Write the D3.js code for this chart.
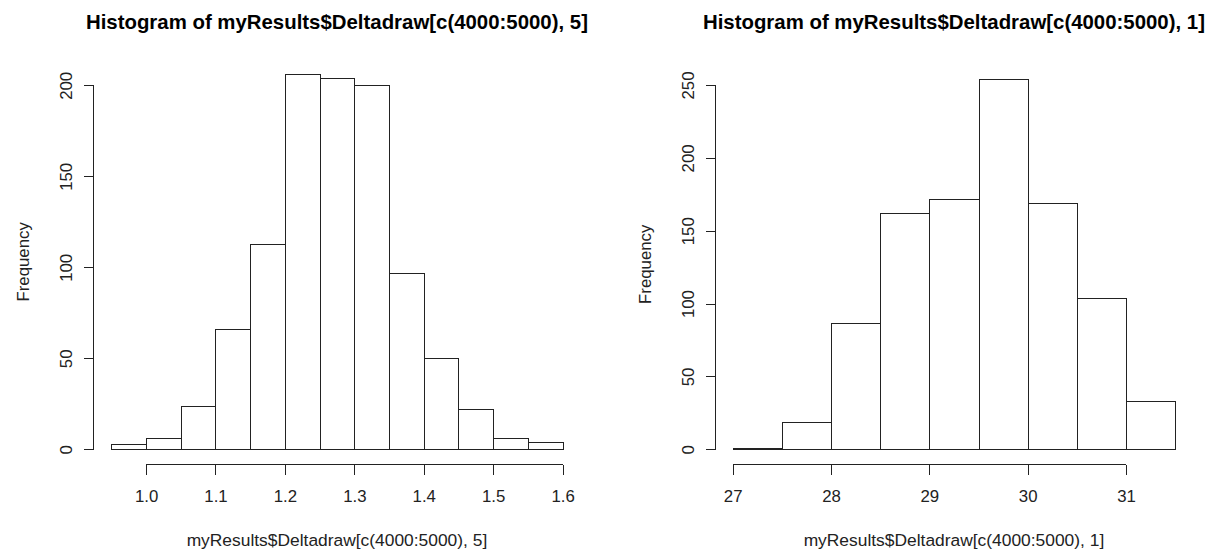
<!DOCTYPE html>
<html>
<head>
<meta charset="utf-8">
<script src="https://cdn.jsdelivr.net/npm/d3@7"></script>
<style>
  body { margin: 0; background: #fff; }
  text { font-family: "Liberation Sans", Arial, sans-serif; fill: #222; }
  .bar { fill: #fff; stroke: #222; stroke-width: 1; shape-rendering: crispEdges; }
  .axis path, .axis line { stroke: #222; shape-rendering: crispEdges; }
</style>
</head>
<body>
<script>
var w = 1224;
var h = 552;

// left histogram: column 5
var leftBreaks = [0.95, 1.0, 1.05, 1.1, 1.15, 1.2, 1.25, 1.3, 1.35, 1.4, 1.45, 1.5, 1.55, 1.6];
var leftCounts = [3, 6, 24, 66, 113, 206, 204, 200, 97, 50, 22, 6, 4];
var leftXTicks = [1.0, 1.1, 1.2, 1.3, 1.4, 1.5, 1.6];
var leftYTicks = [0, 50, 100, 150, 200];

// right histogram: column 1
var rightBreaks = [27, 27.5, 28, 28.5, 29, 29.5, 30, 30.5, 31, 31.5];
var rightCounts = [1, 19, 87, 162, 172, 254, 169, 104, 33];
var rightXTicks = [27, 28, 29, 30, 31];
var rightYTicks = [0, 50, 100, 150, 200, 250];

var labSize = '16.8px';
var mainSize = '20.4px';

var svg = d3.select('body')
            .append('svg')
            .attr('width', w)
            .attr('height', h);

function hist(opts) {
    var g = svg.append('g');
    var br = opts.breaks;
    var xlo = br[0], xhi = br[br.length - 1];
    var xext = (xhi - xlo) * 0.04;
    var ymax = d3.max(opts.counts);
    var yext = ymax * 0.04;

    var x = d3.scaleLinear()
              .domain([xlo - xext, xhi + xext])
              .range([opts.left, opts.right]);
    var y = d3.scaleLinear()
              .domain([-yext, ymax + yext])
              .range([opts.bottom, opts.top]);

    var bins = opts.counts.map(function(c, i) {
        return { x0: br[i], x1: br[i + 1], n: c };
    });

    g.selectAll('rect')
     .data(bins)
     .enter()
     .append('rect')
     .attr('class', 'bar')
     .attr('x', function(d) { return Math.round(x(d.x0)) + 0.5; })
     .attr('width', function(d) { return Math.round(x(d.x1)) - Math.round(x(d.x0)); })
     .attr('y', function(d) { return Math.round(y(d.n)) + 0.5; })
     .attr('height', function(d) { return Math.round(y(0)) - Math.round(y(d.n)); });

    // x axis sits at the bottom of the plot region, like R
    var xAxis = d3.axisBottom(x)
                  .tickValues(opts.xTicks)
                  .tickSize(10)
                  .tickSizeOuter(0)
                  .tickPadding(16)
                  .tickFormat(opts.xFormat);
    var gx = g.append('g')
              .attr('class', 'axis')
              .attr('transform', 'translate(0,' + (Math.round(opts.bottom) + 0.5) + ')')
              .call(xAxis);
    gx.select('.domain')
      .attr('d', 'M' + x(opts.xTicks[0]) + ',0H' + x(opts.xTicks[opts.xTicks.length - 1]));
    gx.selectAll('text')
      .style('font-size', labSize)
      .style('font-family', '"Liberation Sans", Arial, sans-serif')
      .attr('fill', '#222');

    var yAxis = d3.axisLeft(y)
                  .tickValues(opts.yTicks)
                  .tickSize(10)
                  .tickSizeOuter(0)
                  .tickFormat(d3.format('d'));
    var gy = g.append('g')
              .attr('class', 'axis')
              .attr('transform', 'translate(' + (Math.round(opts.left) + 0.5) + ',0)')
              .call(yAxis);
    gy.select('.domain')
      .attr('d', 'M0,' + y(opts.yTicks[0]) + 'V' + y(opts.yTicks[opts.yTicks.length - 1]));
    gy.selectAll('.tick text')
      .attr('x', null)
      .attr('dy', null)
      .attr('text-anchor', 'middle')
      .attr('transform', 'translate(-22,0) rotate(-90)')
      .style('font-size', labSize)
      .style('font-family', '"Liberation Sans", Arial, sans-serif')
      .attr('fill', '#222');

    var cx = (opts.left + opts.right) / 2;
    var cy = (opts.top + opts.bottom) / 2;

    g.append('text')
     .attr('x', cx)
     .attr('y', 29)
     .attr('text-anchor', 'middle')
     .style('font-size', mainSize)
     .style('font-weight', 'bold')
     .style('fill', '#000')
     .text(opts.title);

    g.append('text')
     .attr('x', cx)
     .attr('y', 546)
     .attr('text-anchor', 'middle')
     .style('font-size', '17.4px')
     .text(opts.xlab);

    g.append('text')
     .attr('transform', 'translate(' + (opts.left - 64) + ',' + cy + ') rotate(-90)')
     .attr('text-anchor', 'middle')
     .style('font-size', labSize)
     .text('Frequency');
}

hist({
    breaks: leftBreaks,
    counts: leftCounts,
    xTicks: leftXTicks,
    yTicks: leftYTicks,
    xFormat: d3.format('.1f'),
    left: 93.3, right: 580.6, top: 59.4, bottom: 464.3,
    title: 'Histogram of myResults$Deltadraw[c(4000:5000), 5]',
    xlab: 'myResults$Deltadraw[c(4000:5000), 5]'
});

hist({
    breaks: rightBreaks,
    counts: rightCounts,
    xTicks: rightXTicks,
    yTicks: rightYTicks,
    xFormat: d3.format('d'),
    left: 715.0, right: 1192.9, top: 64.4, bottom: 464.1,
    title: 'Histogram of myResults$Deltadraw[c(4000:5000), 1]',
    xlab: 'myResults$Deltadraw[c(4000:5000), 1]'
});
</script>
</body>
</html>
